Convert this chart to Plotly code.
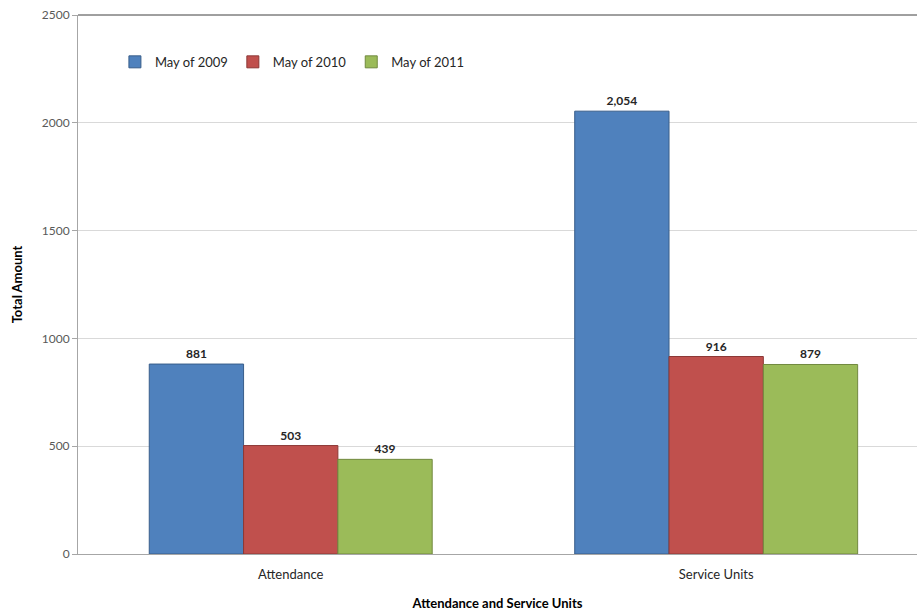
import plotly.graph_objects as go

categories = ["Attendance", "Service Units"]
series_names = ["May of 2009", "May of 2010", "May of 2011"]
values_2009 = [881, 2054]
values_2010 = [503, 916]
values_2011 = [439, 879]
y_ticks = [0, 500, 1000, 1500, 2000, 2500]

colors = ["#4F81BD", "#C0504D", "#9BBB59"]
outlines = ["#385D8A", "#8C3836", "#71893F"]

fig = go.Figure()
for name, vals, col, line in zip(series_names, [values_2009, values_2010, values_2011], colors, outlines):
    fig.add_trace(go.Bar(
        x=categories, y=vals, name=name,
        marker=dict(color=col, line=dict(color=line, width=1)),
        texttemplate="%{y:,}", textposition="outside",
        textfont=dict(family="Lato, Open Sans, sans-serif", size=12, color="#262626", weight="bold"),
        cliponaxis=False,
    ))

fig.update_layout(
    width=917, height=611,
    margin=dict(l=78, r=0, t=15, b=57),
    paper_bgcolor="white", plot_bgcolor="white",
    barmode="group", bargap=0.335, bargroupgap=0,
    font=dict(family="Lato, Open Sans, sans-serif", size=12, color="#404040"),
    legend=dict(
        orientation="h", x=0.044, y=0.913, xanchor="left", yanchor="middle",
        bgcolor="rgba(0,0,0,0)", font=dict(size=13, color="#262626"),
        itemwidth=30, traceorder="normal",
    ),
    xaxis=dict(
        range=[-0.5, 1.472],
        showline=True, linecolor="#A6A6A6", linewidth=1,
        ticks="", tickfont=dict(size=13, color="#262626"), ticklabelstandoff=8,
        title=dict(text="<b>Attendance and Service Units</b>", font=dict(size=13, color="#000000"), standoff=18),
    ),
    yaxis=dict(
        range=[0, 2500], tickvals=y_ticks,
        showgrid=True, gridcolor="#D9D9D9", gridwidth=1,
        showline=True, linecolor="#A6A6A6", linewidth=1,
        ticks="outside", ticklen=5, tickcolor="#A6A6A6",
        tickfont=dict(size=12, color="#595959"),
        zeroline=False,
        title=dict(text="<b>Total Amount</b>", font=dict(size=13, color="#000000"), standoff=16),
    ),
    shapes=[dict(type="line", xref="paper", yref="paper", x0=0, x1=1, y0=1, y1=1,
                 line=dict(color="#404040", width=1))],
)

fig.write_html("out.html")
